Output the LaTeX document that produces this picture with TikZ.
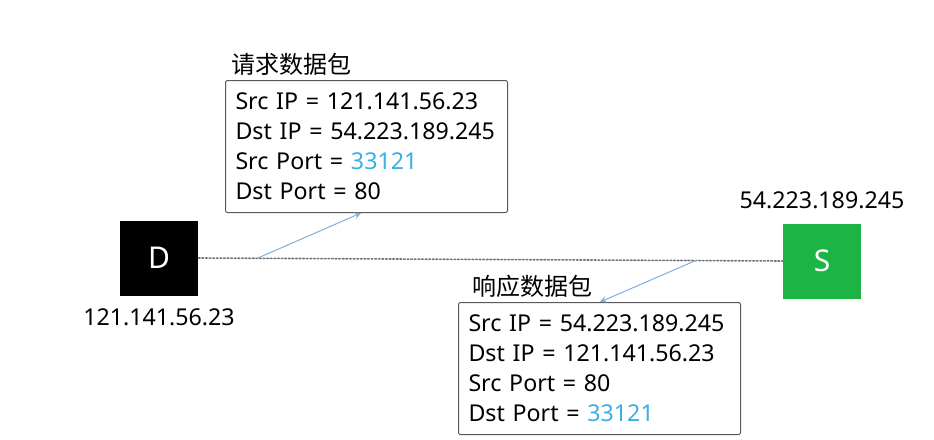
\documentclass[tikz,border=0pt]{standalone}
\usepackage{fontspec}
\setmainfont{Noto Sans}
\newfontfamily\cjk{Noto Sans CJK SC}
\usetikzlibrary{positioning}
\definecolor{hostgreen}{HTML}{1DB446}
\definecolor{portblue}{HTML}{3AAEE8}
\definecolor{linkblue}{HTML}{7DAEE0}
\tikzset{
  host/.style={minimum width=39pt,minimum height=37.5pt,inner sep=0pt,text=white,font=\fontsize{15}{15}\selectfont},
  pkt/.style={draw=black!65,line width=0.5pt,rounded corners=1pt,anchor=north west,
    minimum width=141pt,minimum height=66pt,text width=131pt,inner xsep=5pt,inner ysep=0pt,
    align=left,font=\fontsize{11.6}{15}\selectfont},
  pkttitle/.style={anchor=south west,inner sep=1pt,font=\cjk\fontsize{12}{12}\selectfont},
  addr/.style={font=\fontsize{11.6}{11.6}\selectfont,inner sep=1pt},
}
\newcommand{\portno}[1]{\textcolor{portblue}{#1}}
\begin{document}
\begin{tikzpicture}[x=0.5pt,y=-0.5pt,line join=round,line cap=round,>=stealth]
\useasboundingbox (0,0) rectangle (934,440);
% hosts
\node[host,fill=black] (D) at (159,258) {D};
\node[host,fill=hostgreen] (S) at (822,261) {S};
\node[addr,below=5pt of D] (Dip) {121.141.56.23};
\node[addr,above=6pt of S] (Sip) {54.223.189.245};
\draw[densely dotted,black!55,line width=0.8pt] (D.east) -- (S.west);
% packets
\node[pkt] (req) at (225,80) {Src IP = 121.141.56.23\\Dst IP = 54.223.189.245\\Src Port = \portno{33121}\\Dst Port = 80};
\node[pkttitle] (reqt) at ([xshift=2pt,yshift=1pt]req.north west) {请求数据包};
\node[pkt] (resp) at (458,302) {Src IP = 54.223.189.245\\Dst IP = 121.141.56.23\\Src Port = 80\\Dst Port = \portno{33121}};
\node[pkttitle] (respt) at ([xshift=6pt,yshift=1pt]resp.north west) {响应数据包};
\coordinate (reqa) at (258,258);
\coordinate (respa) at (697,260);
\draw[->,linkblue,line width=0.5pt] (reqa) -- (req.south -| 361,0);
\draw[->,linkblue,line width=0.5pt] (respa) -- (resp.north -| 600,0);
\end{tikzpicture}
\end{document}
